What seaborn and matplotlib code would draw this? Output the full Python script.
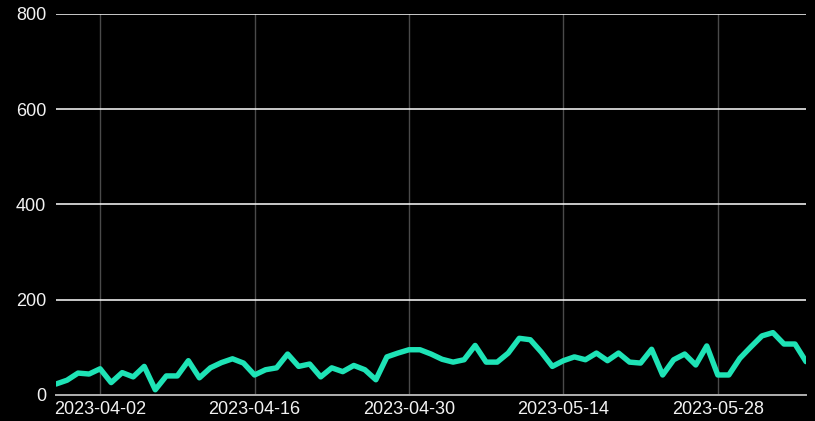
import pandas as pd
import matplotlib
matplotlib.use('Agg')
import matplotlib.pyplot as plt
import matplotlib.dates as mdates
import seaborn as sns

# daily values
start_date = '2023-03-29'
values = [23, 31, 46, 44, 55, 26, 47, 38, 60, 11,
          40, 40, 72, 36, 57, 68, 76, 67, 42, 53,
          57, 86, 60, 65, 38, 57, 49, 62, 53, 32,
          80, 88, 95, 95, 86, 75, 69, 74, 104, 69,
          69, 88, 119, 116, 90, 60, 72, 80, 74, 88,
          72, 88, 69, 67, 96, 42, 74, 86, 63, 103,
          42, 42, 77, 101, 124, 131, 107, 107, 70]
tick_dates = ['2023-04-02', '2023-04-16', '2023-04-30', '2023-05-14', '2023-05-28']
y_ticks = [0, 200, 400, 600, 800]

df = pd.DataFrame({'date': pd.date_range(start_date, periods=len(values), freq='D'),
                   'value': values})

sns.set_style('dark')
plt.rcParams['font.family'] = ['Liberation Sans', 'DejaVu Sans']

fig = plt.figure(figsize=(8.15, 4.21), dpi=100, facecolor='black')
ax = fig.add_axes([0.0687, 0.0618, 0.9203, 0.905])
ax.set_facecolor('black')

sns.lineplot(data=df, x='date', y='value', ax=ax, color='#1ee3b6', linewidth=3.9)
ax.lines[0].set_solid_joinstyle('round')

ax.set_xlim(df['date'].iloc[0], df['date'].iloc[-1])
ax.set_ylim(0, 800)
ax.set_xticks(pd.to_datetime(tick_dates))
ax.xaxis.set_major_formatter(mdates.DateFormatter('%Y-%m-%d'))
ax.set_yticks(y_ticks)

# gridlines: white horizontal, gray vertical
ax.grid(False)
for yv in y_ticks[1:]:
    ax.axhline(yv, color='white', linewidth=1.1, zorder=0.5)
for d in pd.to_datetime(tick_dates):
    ax.axvline(d, color='#4a4a4a', linewidth=1.0, zorder=0.4)

for side in ['top', 'right', 'left']:
    ax.spines[side].set_visible(False)
ax.spines['bottom'].set_color('#b0b0b0')
ax.spines['bottom'].set_linewidth(1.4)

ax.tick_params(axis='both', length=0, colors='#f2f2f2', labelsize=13)
ax.tick_params(axis='y', pad=7)
ax.tick_params(axis='x', pad=4)
ax.set_xlabel('')
ax.set_ylabel('')

plt.savefig('out.png', dpi=100, facecolor='black')
